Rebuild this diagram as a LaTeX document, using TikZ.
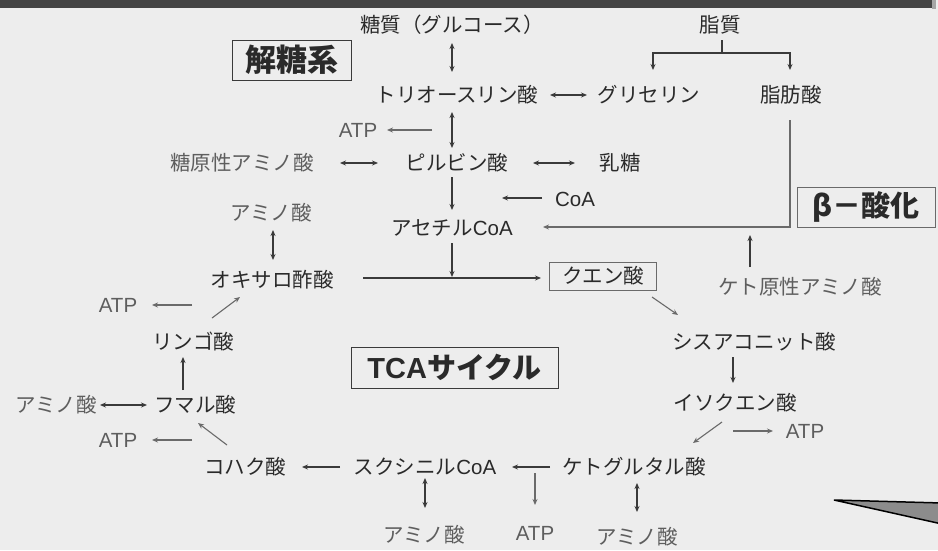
\documentclass[tikz,border=0pt]{standalone}
\usepackage{fontspec}
\setmainfont{Noto Sans CJK JP}
\newfontfamily\lat{Liberation Sans}
\usetikzlibrary{arrows.meta,calc}
\definecolor{bg}{HTML}{EDEDED}
\definecolor{bar}{HTML}{444444}
\definecolor{ink}{HTML}{2A2A2A}
\definecolor{subink}{HTML}{5E5E5E}
\definecolor{lineink}{HTML}{3A3A3A}
\definecolor{glineink}{HTML}{6A6A6A}
\begin{document}
\begin{tikzpicture}[x=1pt,y=-1pt,
  lbl/.style={inner sep=1pt, text=ink, font=\fontsize{20.5}{22}\selectfont},
  sublbl/.style={inner sep=1pt, text=subink, font=\fontsize{20.5}{22}\selectfont},
  latlbl/.style={inner sep=1pt, text=subink, font=\fontsize{20.5}{22}\selectfont\lat},
  titlebox/.style={draw=lineink, line width=1pt, inner sep=0pt, text=ink,
     font=\fontsize{29}{31}\selectfont\bfseries},
  cbox/.style={draw=glineink, line width=1pt, inner sep=0pt, minimum width=107, minimum height=28,
     text=ink, font=\fontsize{20.5}{22}\selectfont},
  arr/.style={draw=lineink, line width=1.1pt, -{Stealth[length=6pt,width=5pt]}},
  garr/.style={draw=glineink, line width=1.1pt, -{Stealth[length=6pt,width=5pt]}},
  dbl/.style={draw=lineink, line width=1.1pt, {Stealth[length=6pt,width=5pt]}-{Stealth[length=6pt,width=5pt]}},
  plain/.style={draw=lineink, line width=1.1pt}
]
\useasboundingbox (0,0) rectangle (938,550);
\fill[bg] (0,0) rectangle (938,550);
\fill[bar] (0,0) rectangle (932,8);
\fill[black!35] (932,0) rectangle (936,9);

% glycolysis
\node[lbl] (glucose) at (452,25) {糖質（グルコース）};
\node[lbl] (lipid) at (720,25) {脂質};
\node[titlebox, minimum width=119, minimum height=40, font=\fontsize{31}{33}\selectfont\bfseries] (kaitou) at (291.5,60) {解糖系};
\node[lbl] (triose) at (457,95) {トリオースリン酸};
\node[lbl] (glycerin) at (649,95) {グリセリン};
\node[lbl] (fatty) at (791,95) {脂肪酸};
\node[latlbl] (atp1) at (358,130) {ATP};
\node[sublbl] (gaa) at (242,163) {糖原性アミノ酸};
\node[lbl] (pyr) at (457,163) {ピルビン酸};
\node[lbl] (lact) at (620,163) {乳糖};
\node[latlbl, text=ink] (coa) at (575,199) {CoA};
\node[lbl] (acetyl) at (452,228) {アセチル{\lat CoA}};
\node[titlebox, draw=glineink, minimum width=138, minimum height=40] (beta) at (866,207) {β－酸化};
\node[sublbl] (ketoaa) at (800,287) {ケト原性アミノ酸};

% TCA cycle
\node[sublbl] (aa1) at (271,213) {アミノ酸};
\node[lbl] (oxalo) at (272,280) {オキサロ酢酸};
\node[cbox] (citrate) at (603,276) {クエン酸};
\node[lbl] (cis) at (754,342) {シスアコニット酸};
\node[lbl] (iso) at (735,403) {イソクエン酸};
\node[latlbl] (atp5) at (805,431) {ATP};
\node[lbl] (akg) at (634,467) {ケトグルタル酸};
\node[lbl] (succoa) at (425,467) {スクシニル{\lat CoA}};
\node[lbl] (succ) at (245,467) {コハク酸};
\node[sublbl] (aa3) at (424,535) {アミノ酸};
\node[latlbl] (atp4) at (535,533) {ATP};
\node[sublbl] (aa4) at (637,537) {アミノ酸};
\node[titlebox, minimum width=207, minimum height=41] (tca) at (454.5,367.5) {{\lat TCA}サイクル};
\node[lbl] (fum) at (195,405) {フマル酸};
\node[sublbl] (aa2) at (56,405) {アミノ酸};
\node[latlbl] (atp3) at (118,440) {ATP};
\node[lbl] (malic) at (193,342) {リンゴ酸};
\node[latlbl] (atp2) at (118,305) {ATP};

% connectors: glycolysis
\draw[dbl] ($(glucose)+(0,18)$) -- ($(triose)+(-5,-23)$);
\draw[plain] ($(lipid)+(2,15)$) -- ($(lipid)+(2,28)$) coordinate (lipidsplit);
\draw[arr] (lipidsplit) -| ($(glycerin)+(4,-25)$);
\draw[arr] (lipidsplit) -| ($(fatty)+(-1,-25)$);
\draw[dbl] ($(triose)+(93,0)$) -- ($(glycerin)+(-62,0)$);
\draw[garr] ($(triose)+(-25,35)$) -- ($(atp1)+(29,0)$);
\draw[dbl] ($(triose)+(-5,17)$) -- ($(pyr)+(-5,-15)$);
\draw[dbl] ($(gaa)+(98,0)$) -- ($(pyr)+(-79,0)$);
\draw[dbl] ($(pyr)+(76,0)$) -- ($(lact)+(-45,0)$);
\draw[arr] ($(pyr)+(-5,14)$) -- ($(acetyl)+(0,-18)$);
\draw[arr] ($(coa)+(-33,-1)$) -- ($(coa)+(-73,-1)$);
\draw[garr] ($(fatty)+(-1,25)$) |- ($(acetyl)+(91,-1)$);
\draw[arr] ($(ketoaa)+(-50,-20)$) -- ($(ketoaa)+(-50,-52)$);

% connectors: TCA
\draw[dbl] ($(aa1)+(2,17)$) -- ($(oxalo)+(1,-20)$);
\draw[arr] ($(oxalo)+(91,-2)$) -- ($(citrate.west)+(-8,2)$);
\draw[arr] ($(acetyl)+(0,15)$) -- ($(acetyl)+(0,49)$);
\draw[garr] ($(citrate)+(49,21)$) -- ($(cis)+(-76,-27)$);
\draw[arr] ($(cis)+(-21,15)$) -- ($(iso)+(-2,-20)$);
\draw[garr] ($(iso)+(-13,19)$) -- ($(akg)+(59,-24)$);
\draw[garr] ($(iso)+(-2,28)$) -- ($(atp5)+(-32,0)$);
\draw[arr] ($(akg)+(-84,0)$) -- ($(succoa)+(87,0)$);
\draw[garr] ($(akg)+(-99,6)$) -- ($(atp4)+(0,-28)$);
\draw[dbl] ($(akg)+(3,16)$) -- ($(aa4)+(0,-25)$);
\draw[arr] ($(succoa)+(-85,0)$) -- ($(succ)+(57,0)$);
\draw[dbl] ($(succoa)+(0,11)$) -- ($(aa3)+(1,-27)$);
\draw[garr] ($(succ)+(-18,-22)$) -- ($(fum)+(3,18)$);
\draw[garr] ($(fum)+(-3,35)$) -- ($(atp3)+(34,0)$);
\draw[dbl] ($(aa2)+(44,0)$) -- ($(fum)+(-48,0)$);
\draw[arr] ($(fum)+(-12,-15)$) -- ($(malic)+(-10,15)$);
\draw[garr] ($(malic)+(19,-24)$) -- ($(oxalo)+(-32,17)$);
\draw[garr] ($(malic)+(-1,-37)$) -- ($(atp2)+(34,0)$);

% pointer wedge at bottom right
\draw[fill=black!45, draw=black, line width=1.5pt, line join=miter] (834,500) -- (942,503) -- (942,524) -- cycle;
\end{tikzpicture}
\end{document}
